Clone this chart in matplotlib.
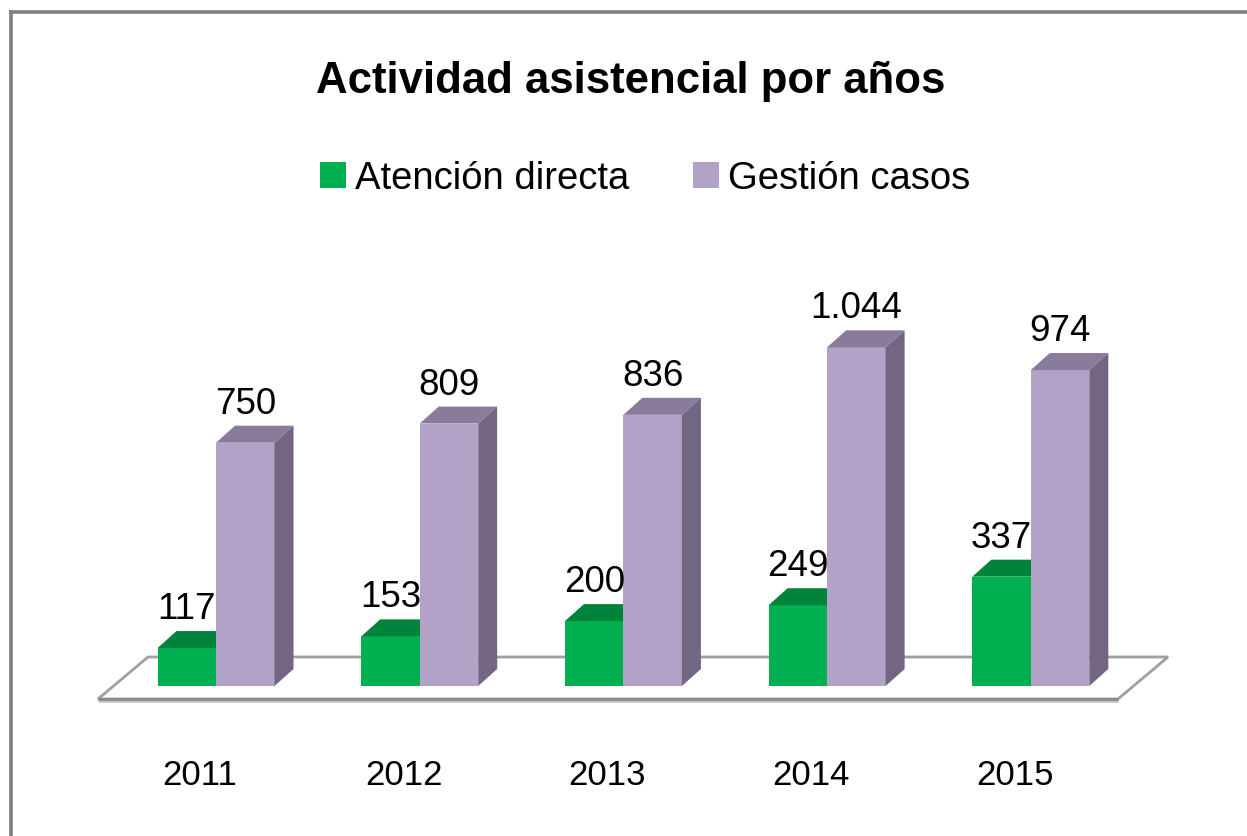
import matplotlib
matplotlib.use('Agg')
import matplotlib.pyplot as plt
from matplotlib.patches import Polygon
from matplotlib.lines import Line2D
from matplotlib import font_manager

# ---------------- data ----------------
years = ['2011', '2012', '2013', '2014', '2015']
atencion_directa = [117, 153, 200, 249, 337]
gestion_casos = [750, 809, 836, 1044, 974]
labels_atencion = ['117', '153', '200', '249', '337']
labels_gestion = ['750', '809', '836', '1.044', '974']
series_names = ['Atención directa', 'Gestión casos']
title = 'Actividad asistencial por años'

# ---------------- style ----------------
GREEN = '#00B050'
GREEN_TOP = '#00843C'
PURPLE = '#B3A2C7'
PURPLE_TOP = '#887B9C'
PURPLE_SIDE = '#736682'

names = {f.name for f in font_manager.fontManager.ttflist}
NARROW = ['Liberation Sans Narrow', 'Liberation Sans', 'DejaVu Sans']
NARROW = [n for n in NARROW if n in names] or ['DejaVu Sans']

W, H = 1247, 837
fig = plt.figure(figsize=(W / 100, H / 100), dpi=100)
ax = fig.add_axes([0, 0, 1, 1])

GROUP = 203.7   # px per category
X0 = 216.0      # px of first category centre
BASE = 687.0    # px from top of baseline
SCALE = 0.3244  # px per unit
ax.set_xlim(-X0 / GROUP, (W - X0) / GROUP)
ax.set_ylim(-(H - BASE) / SCALE, BASE / SCALE)
ax.axis('off')


def ux(px):
    return px / GROUP


def uy(px):
    return px / SCALE


bw = ux(58.5)
ddx, ddy = ux(19), uy(17)

# floor
fl_y = uy(-13)
fl_l, fl_r = ux(98 - X0), ux(1118 - X0)
fdx, fdy = ux(50), uy(42)
floor = Polygon([(fl_l, fl_y), (fl_r, fl_y), (fl_r + fdx, fl_y + fdy), (fl_l + fdx, fl_y + fdy)],
                closed=True, facecolor='white', edgecolor='#A0A0A0', linewidth=2, zorder=1)
ax.add_patch(floor)
ax.plot([fl_l, fl_r], [fl_y - uy(1.5), fl_y - uy(1.5)], color='#C8C8C8', lw=2, zorder=1,
        solid_capstyle='butt')
ax.plot([fl_l, fl_r], [fl_y, fl_y], color='#8C8C8C', lw=2.2, zorder=1.1, solid_capstyle='butt')

xs = list(range(len(years)))
VAL_FS = 26.5

for i in xs:
    # green bar
    x0 = i - bw
    h = atencion_directa[i]
    ax.bar(x0, h, width=bw, align='edge', color=GREEN, edgecolor='none', zorder=2)
    ax.add_patch(Polygon([(x0, h), (x0 + bw, h), (x0 + bw + ddx, h + ddy), (x0 + ddx, h + ddy)],
                         closed=True, facecolor=GREEN_TOP, edgecolor='none', zorder=2.1))
    ax.text(x0 + bw / 2, h + uy(30), labels_atencion[i], ha='center', va='baseline',
            fontsize=VAL_FS, family=NARROW, color='black', zorder=5)
    # purple bar
    x0 = i
    h = gestion_casos[i]
    ax.bar(x0, h, width=bw, align='edge', color=PURPLE, edgecolor='none', zorder=3)
    ax.add_patch(Polygon([(x0, h), (x0 + bw, h), (x0 + bw + ddx, h + ddy), (x0 + ddx, h + ddy)],
                         closed=True, facecolor=PURPLE_TOP, edgecolor='none', zorder=3.1))
    ax.add_patch(Polygon([(x0 + bw, 0), (x0 + bw + ddx, ddy), (x0 + bw + ddx, h + ddy), (x0 + bw, h)],
                         closed=True, facecolor=PURPLE_SIDE, edgecolor='none', zorder=3.1))
    ax.text(x0 + bw / 2, h + uy(30), labels_gestion[i], ha='center', va='baseline',
            fontsize=VAL_FS, family=NARROW, color='black', zorder=5)
    # year label
    ax.text(i - ux(16), uy(BASE - 785), years[i], ha='center', va='baseline',
            fontsize=25, family=NARROW, color='black')

# title
fig.text(631 / W, 1 - 93 / H, title, ha='center', va='baseline', fontsize=31.5,
         fontweight='bold', family=NARROW, color='black')

# legend
sq = 26
for (lx, name, col) in [(320, series_names[0], GREEN), (693, series_names[1], PURPLE)]:
    fig.patches.append(plt.Rectangle((lx / W, 1 - 189 / H), sq / W, sq / H,
                                     transform=fig.transFigure, facecolor=col, edgecolor='none'))
    fig.text((lx + 35) / W, 1 - 189 / H, name, ha='left', va='baseline', fontsize=27.5,
             family=NARROW, color='black')

# frame
fig.add_artist(Line2D([10.5 / W, 10.5 / W], [1 - 11 / H, 0], transform=fig.transFigure,
                      color='#808080', lw=2.6, solid_capstyle='butt'))
fig.add_artist(Line2D([9 / W, 1], [1 - 12.5 / H, 1 - 12.5 / H], transform=fig.transFigure,
                      color='#808080', lw=2.6, solid_capstyle='butt'))

fig.savefig('out.png', dpi=100, facecolor='white')
